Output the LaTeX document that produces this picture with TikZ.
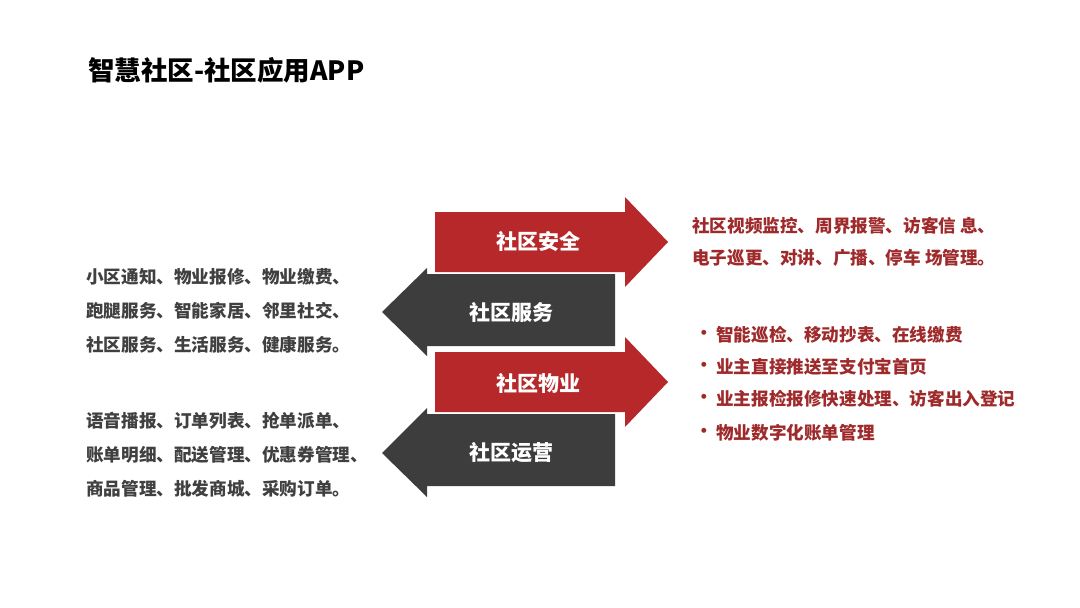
\documentclass[tikz,border=0pt]{standalone}
\usepackage{fontspec}
\setmainfont{Noto Sans CJK SC}
\definecolor{rd}{HTML}{B7282A}
\definecolor{dk}{HTML}{3D3D3D}
\definecolor{rt}{HTML}{9E2A2B}
\definecolor{gt}{HTML}{404040}
\begin{document}
\begin{tikzpicture}[x=1pt,y=-1pt,
  ltxt/.style={anchor=west,font=\fontsize{17.6}{20}\selectfont\bfseries,text=gt,inner sep=0},
  rtxt/.style={anchor=west,font=\fontsize{17.6}{20}\selectfont\bfseries,text=rt,inner sep=0},
  lab/.style={font=\fontsize{21}{24}\selectfont\bfseries,text=white,inner sep=0}]
\useasboundingbox (0,0) rectangle (1080,608);
\fill[white] (0,0) rectangle (1080,608);
\node[anchor=west,inner sep=0,font=\fontsize{26.5}{30}\selectfont\bfseries] (title) at (88,70) {智慧社区-社区应用APP};
% dark arrows
\fill[dk] (615,274) -- (427,274) -- (427,268) -- (382,312) -- (427,356) -- (427,346) -- (615,346) -- cycle;
\fill[dk] (615,414) -- (427,414) -- (427,408) -- (382,453) -- (427,497) -- (427,486) -- (615,486) -- cycle;
% red arrows
\fill[rd] (435,212) -- (625,212) -- (625,197) -- (668,242) -- (625,287) -- (625,272) -- (435,272) -- cycle;
\fill[rd] (435,352) -- (625,352) -- (625,337) -- (668,382) -- (625,427) -- (625,412) -- (435,412) -- cycle;
\node[lab] (a1) at (538,242) {社区安全};
\node[lab] (a2) at (511,312) {社区服务};
\node[lab] (a3) at (538,383) {社区物业};
\node[lab] (a4) at (511,453) {社区运营};
% left text
\node[ltxt] (l1) at (86,277) {小区通知、物业报修、物业缴费、};
\node[ltxt] (l2) at (86,311) {跑腿服务、智能家居、邻里社交、};
\node[ltxt] (l3) at (86,345) {社区服务、生活服务、健康服务。};
\node[ltxt] (l4) at (86,421) {语音播报、订单列表、抢单派单、};
\node[ltxt] (l5) at (86,455) {账单明细、配送管理、优惠券管理、};
\node[ltxt] (l6) at (86,489) {商品管理、批发商城、采购订单。};
% right text
\node[rtxt] (r1) at (692,226) {社区视频监控、周界报警、访客信\ 息、};
\node[rtxt] (r2) at (692,258) {电子巡更、对讲、广播、停车\ 场管理。};
\foreach \y/\t [count=\i] in {335/智能巡检、移动抄表、在线缴费,367/业主直接推送至支付宝首页,399/业主报检报修快速处理、访客出入登记,433/物业数字化账单管理}{
  \node[rtxt] (b\i) at (716,\y) {\t};
  \node[rtxt] (d\i) at (695,\y) {·};
}
\end{tikzpicture}
\end{document}
